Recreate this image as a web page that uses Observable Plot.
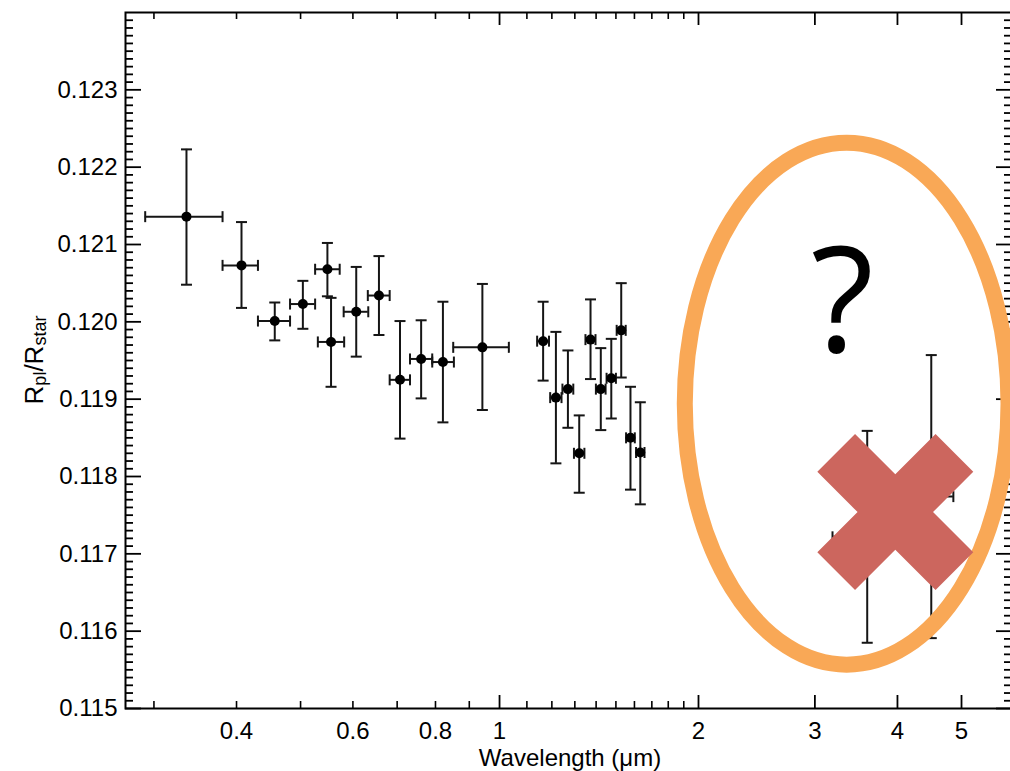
<!DOCTYPE html>
<html><head><meta charset="utf-8">
<script src="https://cdn.jsdelivr.net/npm/d3@7"></script>
<script src="https://cdn.jsdelivr.net/npm/@observablehq/plot@0.6"></script>
<style>body{margin:0;overflow:hidden;background:#fff}</style>
</head><body><div id="chart"></div>
<script>
// ---- data ----
const wavelength = [0.336, 0.407, 0.457, 0.504, 0.549, 0.556, 0.607, 0.657, 0.707, 0.761, 0.821, 0.942,
  1.164, 1.217, 1.269, 1.320, 1.373, 1.423, 1.476, 1.528, 1.578, 1.633, 3.60, 4.50];
const waveLow = [0.291, 0.381, 0.431, 0.482, 0.526, 0.531, 0.581, 0.632, 0.682, 0.732, 0.791, 0.851,
  1.140, 1.193, 1.245, 1.296, 1.349, 1.399, 1.452, 1.504, 1.554, 1.609, 3.19, 4.14];
const waveHigh = [0.381, 0.431, 0.482, 0.526, 0.573, 0.582, 0.633, 0.682, 0.732, 0.791, 0.853, 1.033,
  1.188, 1.241, 1.293, 1.344, 1.397, 1.447, 1.500, 1.552, 1.602, 1.657, 4.00, 4.86];
const ratio = [0.12136, 0.12073, 0.12001, 0.12023, 0.12068, 0.11974, 0.12013, 0.12034, 0.11925, 0.11952, 0.11948, 0.11967,
  0.11975, 0.11902, 0.11913, 0.11830, 0.11977, 0.11913, 0.11927, 0.11989, 0.11850, 0.11831, 0.11722, 0.11774];
const ratioLow = [0.12048, 0.12018, 0.11976, 0.11991, 0.12033, 0.11916, 0.11955, 0.11983, 0.11849, 0.11901, 0.11870, 0.11886,
  0.11924, 0.11817, 0.11863, 0.11779, 0.11926, 0.11860, 0.11875, 0.11928, 0.11783, 0.11764, 0.11585, 0.11591];
const ratioHigh = [0.12223, 0.12129, 0.12025, 0.12053, 0.12102, 0.12031, 0.12071, 0.12085, 0.12001, 0.12002, 0.12026, 0.12049,
  0.12026, 0.11987, 0.11963, 0.11879, 0.12029, 0.11966, 0.11978, 0.12050, 0.11916, 0.11896, 0.11859, 0.11957];

const yTickLabels = [0.115, 0.116, 0.117, 0.118, 0.119, 0.120, 0.121, 0.122, 0.123];
const xTickLabels = [0.4, 0.6, 0.8, 1, 2, 3, 4, 5];
const xMajorTicks = [1, 2, 3, 4, 5];
const xMinorTicks = [0.3, 0.4, 0.5, 0.6, 0.7, 0.8, 0.9, 1.1, 1.2, 1.3, 1.4, 1.5, 1.6, 1.7, 1.8, 1.9];
const yMinorTicks = d3.range(1151, 1240).filter(i => i % 10 !== 0).map(i => i / 10000);

// annotation (in data units)
const ellipseWave = [1.91, 5.90];
const ellipseRatio = [0.11556, 0.12231];
const questionWave = [3.30];
const questionRatio = [0.12021];
const crossWave = [3.97];
const crossRatio = [0.11754];

const xLabel = "Wavelength (μm)";

// ---- layout ----
const W = 1010, H = 771, mL = 125, mR = -2, mT = 12, mB = 63;
const innerW = W - mL - mR, innerH = H - mT - mB;
const FONT = "Liberation Sans, Arial, Helvetica, sans-serif";
const INK = "#151515";

const rows = wavelength.map((w, i) => ({w, wl: waveLow[i], wh: waveHigh[i], r: ratio[i], rl: ratioLow[i], rh: ratioHigh[i]}));

const hCap = {draw(ctx, size) { const r = Math.sqrt(size / Math.PI); ctx.moveTo(-r, 0); ctx.lineTo(r, 0); }};
const vCap = {draw(ctx, size) { const r = Math.sqrt(size / Math.PI); ctx.moveTo(0, -r); ctx.lineTo(0, r); }};
const crossSymbol = {draw(ctx, size) {
  const a = Math.sqrt(size / Math.PI), h = a * 0.319, c = Math.SQRT1_2;
  const pts = [[h,a],[h,h],[a,h],[a,-h],[h,-h],[h,-a],[-h,-a],[-h,-h],[-a,-h],[-a,h],[-h,h],[-h,a]];
  pts.forEach(([x, y], i) => { const X = (x - y) * c, Y = (x + y) * c; i ? ctx.lineTo(X, Y) : ctx.moveTo(X, Y); });
  ctx.closePath();
}};

const svgNS = "http://www.w3.org/2000/svg";
function ellipseMark(index, scales) {
  const x0 = scales.x(ellipseWave[0]), x1 = scales.x(ellipseWave[1]);
  const y0 = scales.y(ellipseRatio[0]), y1 = scales.y(ellipseRatio[1]);
  const e = document.createElementNS(svgNS, "ellipse");
  e.setAttribute("cx", (x0 + x1) / 2);
  e.setAttribute("cy", (y0 + y1) / 2);
  e.setAttribute("rx", Math.abs(x1 - x0) / 2);
  e.setAttribute("ry", Math.abs(y1 - y0) / 2);
  e.setAttribute("fill", "none");
  e.setAttribute("stroke", "#F9A856");
  e.setAttribute("stroke-width", 16);
  return e;
}
function yLabelMark(index, scales, values, dims) {
  const t = document.createElementNS(svgNS, "text");
  const cy = (dims.marginTop + dims.height - dims.marginBottom) / 2;
  t.setAttribute("transform", `translate(${dims.marginLeft - 82},${cy}) rotate(-90)`);
  t.setAttribute("text-anchor", "middle");
  t.setAttribute("font-family", FONT);
  t.setAttribute("font-size", 26);
  t.setAttribute("fill", "black");
  const parts = [["R", 26, 0], ["pl", 18, 3], ["/", 26, -3], ["R", 26, 0], ["star", 18, 3]];
  for (const [s, fs, dy] of parts) {
    const sp = document.createElementNS(svgNS, "tspan");
    sp.setAttribute("font-size", fs);
    sp.setAttribute("dy", dy);
    sp.textContent = s;
    t.appendChild(sp);
  }
  return t;
}

const chart = Plot.plot({
  width: W, height: H,
  marginLeft: mL, marginRight: mR, marginTop: mT, marginBottom: mB,
  style: {fontFamily: FONT, fontSize: "24px", color: "black", background: "white"},
  x: {type: "log", domain: [0.2717, 5.972]},
  y: {domain: [0.115, 0.124]},
  marks: [
    // ticks (inward, IDL style)
    Plot.tickY(yTickLabels, {y: d => d, insetRight: innerW - 16, stroke: "black", strokeWidth: 1.8}),
    Plot.tickY(yTickLabels, {y: d => d, insetLeft: innerW - 16, stroke: "black", strokeWidth: 1.8}),
    Plot.tickY(yMinorTicks, {y: d => d, insetRight: innerW - 8, stroke: "black", strokeWidth: 1.8}),
    Plot.tickY(yMinorTicks, {y: d => d, insetLeft: innerW - 8, stroke: "black", strokeWidth: 1.8}),
    Plot.tickX(xMajorTicks, {x: d => d, insetTop: innerH - 13, stroke: "black", strokeWidth: 1.8}),
    Plot.tickX(xMajorTicks, {x: d => d, insetBottom: innerH - 13, stroke: "black", strokeWidth: 1.8}),
    Plot.tickX(xMinorTicks, {x: d => d, insetTop: innerH - 7, stroke: "black", strokeWidth: 1.6}),
    Plot.tickX(xMinorTicks, {x: d => d, insetBottom: innerH - 7, stroke: "black", strokeWidth: 1.6}),
    Plot.frame({stroke: "black", strokeWidth: 2}),
    Plot.axisY({ticks: yTickLabels, tickSize: 0, tickPadding: 8, tickFormat: d3.format(".3f"), fontSize: 24, label: null}),
    Plot.axisX({ticks: xTickLabels, tickSize: 0, tickPadding: 13, tickFormat: d => String(d), fontSize: 24, label: null}),
    Plot.text([xLabel], {frameAnchor: "bottom", text: d => d, dy: 40, dx: 1, lineAnchor: "top", fontSize: 24, fill: "black"}),
    yLabelMark,
    // error bars
    Plot.ruleX(rows, {x: "w", y1: "rl", y2: "rh", stroke: INK, strokeWidth: 2}),
    Plot.ruleY(rows, {y: "r", x1: "wl", x2: "wh", stroke: INK, strokeWidth: 2}),
    Plot.dot(rows, {x: "w", y: "rl", symbol: hCap, r: 5.5, stroke: INK, strokeWidth: 2, fill: "none"}),
    Plot.dot(rows, {x: "w", y: "rh", symbol: hCap, r: 5.5, stroke: INK, strokeWidth: 2, fill: "none"}),
    Plot.dot(rows, {x: "wl", y: "r", symbol: vCap, r: 5.5, stroke: INK, strokeWidth: 2, fill: "none"}),
    Plot.dot(rows, {x: "wh", y: "r", symbol: vCap, r: 5.5, stroke: INK, strokeWidth: 2, fill: "none"}),
    Plot.dot(rows, {x: "w", y: "r", r: 5, fill: "black", stroke: null}),
    // annotation
    ellipseMark,
    Plot.text(questionWave.map((w, i) => ({w, r: questionRatio[i]})), {x: "w", y: "r", text: () => "?", fontSize: 146, fontFamily: "Open Sans", lineAnchor: "middle", fill: "black"}),
    Plot.dot(crossWave.map((w, i) => ({w, r: crossRatio[i]})), {x: "w", y: "r", symbol: crossSymbol, r: 83.6, fill: "#CC665E", stroke: null})
  ]
});
document.getElementById("chart").appendChild(chart);
</script>
</body></html>
